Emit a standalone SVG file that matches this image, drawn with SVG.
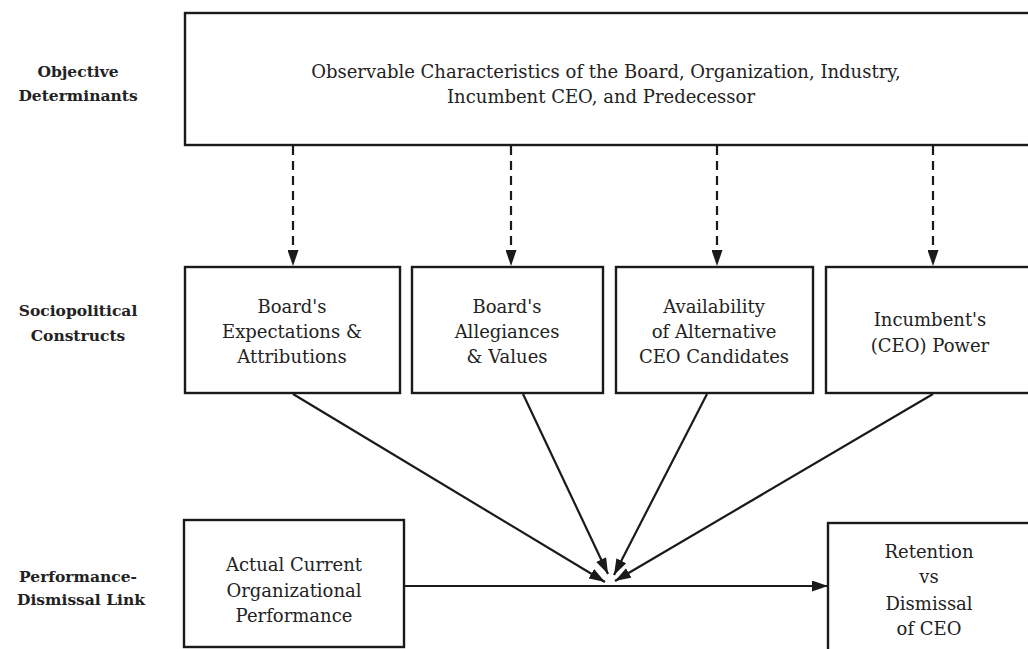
<svg xmlns="http://www.w3.org/2000/svg" width="1028" height="649" viewBox="0 0 1028 649">
<defs>
<marker id="ah" viewBox="0 0 16 11" refX="16" refY="5.5" markerWidth="16" markerHeight="11" markerUnits="userSpaceOnUse" orient="auto">
<path d="M0,0 L16,5.5 L0,11 Z" fill="#1a1a1a"/>
</marker>
<style>
.box{fill:#fff;stroke:#1a1a1a;stroke-width:2.4}
.t{font-family:"DejaVu Serif","Liberation Serif",serif;font-size:18px;fill:#222;text-anchor:middle}
.lab{font-family:"DejaVu Serif","Liberation Serif",serif;font-weight:bold;font-size:15.5px;fill:#222;text-anchor:middle}
.ln{stroke:#1a1a1a;stroke-width:2.2;fill:none}
.dash{stroke:#1a1a1a;stroke-width:2.2;fill:none;stroke-dasharray:9,6}
</style>
</defs>
<rect width="1028" height="649" fill="#fff"/>

<g id="row-labels">
<text class="lab" x="78" y="77">Objective</text>
<text class="lab" x="78" y="101">Determinants</text>
<text class="lab" x="78" y="316">Sociopolitical</text>
<text class="lab" x="78" y="341">Constructs</text>
<text class="lab" x="78" y="582">Performance-</text>
<text class="lab" x="81" y="605">Dismissal Link</text>
</g>

<g id="objective">
<rect class="box" x="185" y="13" width="860" height="132"/>
<text class="t" x="606" y="78">Observable Characteristics of the Board, Organization, Industry,</text>
<text class="t" x="601" y="103">Incumbent CEO, and Predecessor</text>
</g>

<g id="expectations">
<rect class="box" x="185" y="267" width="215" height="126"/>
<text class="t" x="292" y="313">Board's</text>
<text class="t" x="292" y="338">Expectations &amp;</text>
<text class="t" x="292" y="363">Attributions</text>
</g>

<g id="allegiances">
<rect class="box" x="412" y="267" width="191" height="126"/>
<text class="t" x="507" y="313">Board's</text>
<text class="t" x="507" y="338">Allegiances</text>
<text class="t" x="507" y="363">&amp; Values</text>
</g>

<g id="availability">
<rect class="box" x="616" y="267" width="197" height="126"/>
<text class="t" x="714" y="313">Availability</text>
<text class="t" x="714" y="338">of Alternative</text>
<text class="t" x="714" y="363">CEO Candidates</text>
</g>

<g id="power">
<rect class="box" x="826" y="267" width="220" height="126"/>
<text class="t" x="930" y="326">Incumbent's</text>
<text class="t" x="930" y="352">(CEO) Power</text>
</g>

<g id="performance">
<rect class="box" x="184" y="520" width="220" height="127"/>
<text class="t" x="294" y="571">Actual Current</text>
<text class="t" x="294" y="597">Organizational</text>
<text class="t" x="294" y="622">Performance</text>
</g>

<g id="retention">
<rect class="box" x="828" y="523" width="220" height="140"/>
<text class="t" x="929" y="558">Retention</text>
<text class="t" x="929" y="583">vs</text>
<text class="t" x="929" y="610">Dismissal</text>
<text class="t" x="929" y="635">of CEO</text>
</g>

<g id="connectors">
<line class="dash" x1="293" y1="146" x2="293" y2="266" marker-end="url(#ah)"/>
<line class="dash" x1="511" y1="146" x2="511" y2="266" marker-end="url(#ah)"/>
<line class="dash" x1="717" y1="146" x2="717" y2="266" marker-end="url(#ah)"/>
<line class="dash" x1="933" y1="146" x2="933" y2="266" marker-end="url(#ah)"/>
<line class="ln" x1="293" y1="394" x2="605" y2="582" marker-end="url(#ah)"/>
<line class="ln" x1="523" y1="394" x2="608" y2="574" marker-end="url(#ah)"/>
<line class="ln" x1="707" y1="394" x2="614" y2="575" marker-end="url(#ah)"/>
<line class="ln" x1="933" y1="394" x2="615" y2="581" marker-end="url(#ah)"/>
<line class="ln" x1="404" y1="586" x2="828" y2="586" marker-end="url(#ah)"/>
</g>
</svg>
